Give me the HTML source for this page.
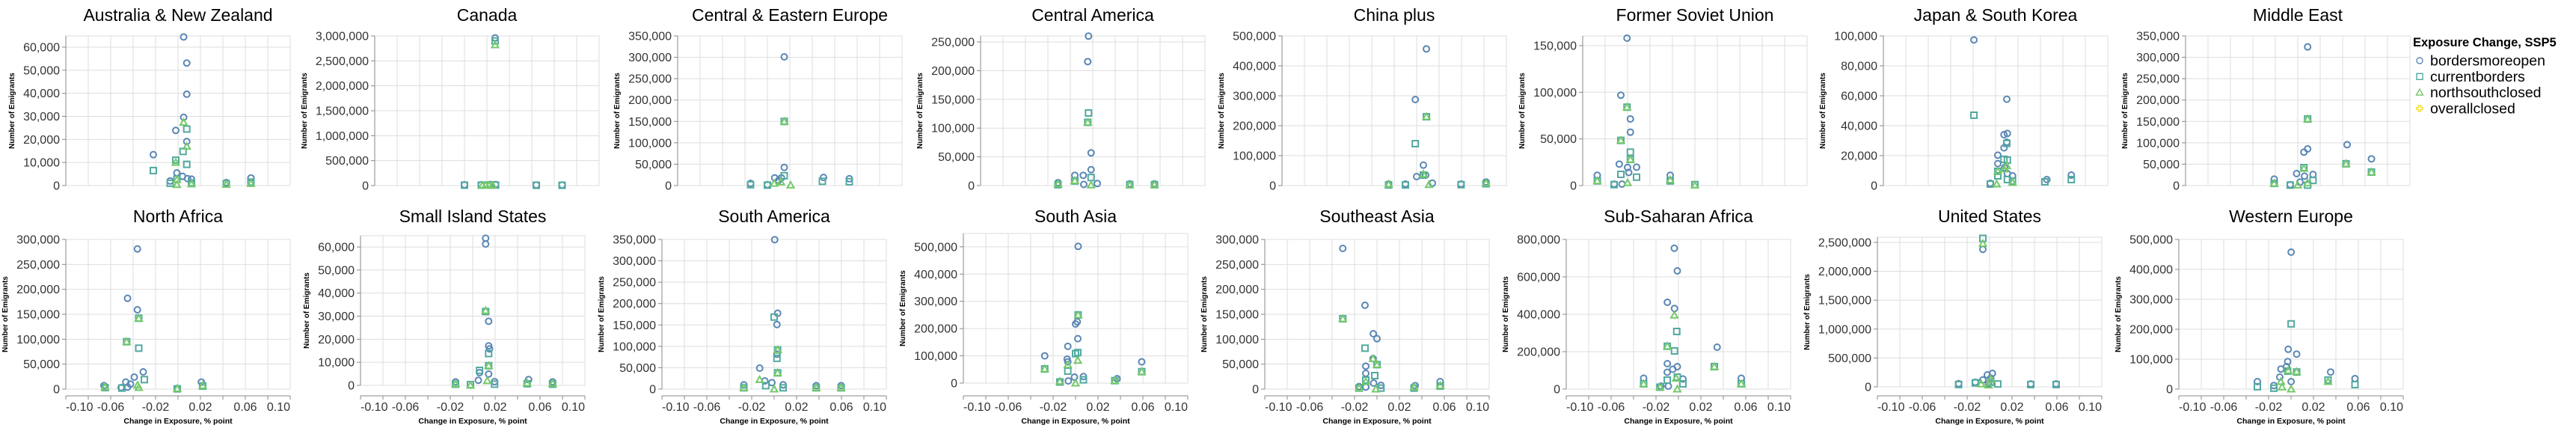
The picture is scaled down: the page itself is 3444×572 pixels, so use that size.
<!DOCTYPE html>
<html>
<head>
<meta charset="utf-8">
<style>
html,body{margin:0;padding:0;background:#fff;}
svg{display:block;font-family:"Liberation Sans",sans-serif;}
</style>
</head>
<body>
<svg id="chart" width="3444" height="572" viewBox="0 0 3444 572" xmlns="http://www.w3.org/2000/svg"></svg>
<script>
// ---- data ----
const regions = ["Australia & New Zealand","Canada","Central & Eastern Europe","Central America","China plus","Former Soviet Union","Japan & South Korea","Middle East",
"North Africa","Small Island States","South America","South Asia","Southeast Asia","Sub-Saharan Africa","United States","Western Europe"];
const yMax = [64865,3000000,350000,260400,500000,160400,100000,350000, 300000,64900,350000,549000,300000,800000,2590000,500000];
const yTickStep = [10000,500000,50000,50000,100000,50000,20000,50000, 50000,10000,50000,100000,50000,200000,500000,100000];
const xTickValues = [-0.10,-0.08,-0.06,-0.04,-0.02,0,0.02,0.04,0.06,0.08,0.10];
const xTickLabels = ["-0.10","","-0.06","","-0.02","","0.02","","0.06","","0.10"];
const seriesNames = ["bordersmoreopen","currentborders","northsouthclosed","overallclosed"];

const openPts = [
 [[0.005,64400],[0.0078,53100],[0.0078,39600],[0.005,29600],[-0.002,23900],[0.0078,19100],[-0.022,13400],[-0.001,5500],[0.004,4000],[-0.007,2000],[0.0085,3000],[0.012,2800],[0.043,1300],[0.065,3300]],
 [[0.0073,2960000],[-0.020,15000],[-0.005,15000],[0.003,20000],[0.0077,20000],[0.044,12000],[0.067,12000]],
 [[-0.005,301000],[-0.005,42500],[-0.035,5000],[-0.0135,18000],[-0.0075,18000],[0.030,19000],[0.053,16000],[-0.020,2000],[-0.010,12000]],
 [[-0.0038,260000],[-0.0045,215700],[-0.0015,56900],[-0.0015,27700],[-0.016,17800],[-0.0085,17800],[-0.031,5000],[0.004,3500],[0.033,3000],[0.055,3000],[-0.008,2000]],
 [[0.0287,456700],[0.0188,287500],[0.026,68300],[0.020,30000],[0.028,35000],[0.034,8000],[-0.005,5000],[0.010,5000],[0.0596,5000],[0.0818,12000]],
 [[-0.0605,158000],[-0.066,96800],[-0.0575,71400],[-0.0575,57200],[-0.0674,23000],[-0.060,19400],[-0.052,19700],[-0.087,11000],[-0.022,11000],[-0.059,14000],[-0.065,1500],[-0.072,1500]],
 [[-0.0193,97300],[0.010,57700],[0.0075,34000],[0.0105,34800],[0.0075,25200],[0.010,29000],[0.002,20300],[0.002,14700],[0.008,12000],[0.0105,8000],[0.0151,6500],[-0.0047,1500],[0.0457,4000],[0.0675,7000]],
 [[0.0088,324300],[0.044,95700],[0.0657,62400],[0.0088,85800],[0.0055,78200],[-0.001,28000],[0.0136,26000],[0.006,22000],[-0.021,15000],[0.002,8000],[-0.0067,2000]],
 [[-0.0362,281000],[-0.045,182000],[-0.0362,159000],[-0.031,34500],[-0.039,24000],[-0.0465,14000],[-0.066,7000],[-0.0507,3000],[-0.045,4000],[-0.0424,10000],[0.0208,14000],[-0.0007,1000]],
 [[0.0115,63800],[0.0115,61300],[0.0142,27800],[0.0142,17100],[0.015,15800],[0.0142,4900],[0.0061,5500],[0.005,2200],[0.0195,1600],[0.0498,2500],[0.0712,1500],[-0.0153,1500]],
 [[0.0005,349400],[0.0031,177300],[0.0025,151000],[0.0025,81600],[-0.0129,49000],[-0.0083,19000],[-0.027,10000],[0.008,10000],[0.0375,8000],[0.0597,8000],[-0.002,15000]],
 [[0.0023,501500],[0.0015,225000],[0.0,217000],[0.002,163000],[-0.0069,135000],[-0.0275,100000],[-0.0075,88000],[-0.0069,78000],[0.059,78000],[0.037,16000],[0.007,24000],[-0.001,22000],[-0.014,6000],[-0.0065,8000]],
 [[-0.0305,282000],[-0.0107,168000],[-0.0033,111000],[0.0,101000],[-0.0035,61000],[-0.010,46000],[-0.010,31500],[-0.016,5000],[-0.010,4000],[0.0035,7500],[0.034,7000],[0.0563,15000],[-0.003,12000]],
 [[-0.0037,753000],[-0.001,632000],[-0.0099,464000],[-0.0035,431000],[0.0345,224000],[-0.0099,136000],[-0.001,120000],[-0.005,106000],[-0.010,90000],[-0.031,58000],[0.056,58000],[0.004,54000],[-0.0156,16000],[-0.009,16000]],
 [[-0.006,2380000],[0.0025,233000],[-0.002,207000],[0.001,150000],[-0.006,120000],[-0.0127,80000],[-0.0276,55000],[0.0367,50000],[0.0593,50000],[-0.001,50000]],
 [[0.0001,457500],[-0.0025,133000],[0.005,117000],[-0.003,92000],[-0.004,75000],[-0.009,67000],[0.0353,57000],[0.057,35000],[-0.030,25000],[0.0001,25000],[-0.0153,12000],[-0.010,40000]]
];
const currentPts = [
 [[0.0078,24500],[0.0045,14800],[-0.002,11000],[0.0078,9200],[-0.022,6500],[-0.007,1000],[0.012,1200],[0.043,800],[0.065,1500],[-0.001,2800]],
 [[0.0073,2900000],[-0.020,8000],[-0.005,8000],[0.003,10000],[0.0077,10000],[0.044,6000],[0.067,6000]],
 [[-0.005,150000],[-0.005,23000],[0.029,10000],[0.053,9000],[-0.035,2000],[-0.020,1000]],
 [[-0.0038,126300],[-0.0045,110000],[-0.0015,14000],[-0.031,1500],[0.033,1500],[0.055,1500],[-0.016,8000]],
 [[0.0188,140000],[0.0287,230000],[0.026,35000],[-0.005,2000],[0.010,2000],[0.0596,3000],[0.0818,6000]],
 [[-0.0605,84000],[-0.066,48400],[-0.0575,35800],[-0.0575,28000],[-0.066,12000],[-0.052,9000],[-0.087,5000],[-0.022,5000],[-0.072,1000],[0.0,1000]],
 [[-0.0193,47000],[0.010,28200],[0.0075,17500],[0.0105,17000],[0.002,9500],[0.002,6500],[0.0105,4000],[-0.0047,1000],[0.044,2500],[0.0675,4000],[0.0151,3000]],
 [[0.0088,155700],[0.043,51000],[0.0657,31500],[0.0055,42000],[0.0136,12000],[-0.021,5000],[-0.0067,1000],[0.0088,1000]],
 [[-0.035,142000],[-0.0458,95000],[-0.035,82000],[-0.030,19000],[-0.065,3000],[0.022,6000],[-0.0007,500],[-0.050,2000]],
 [[0.0115,32000],[0.0142,13800],[0.0142,8500],[0.0061,6500],[0.0195,500],[-0.0153,500],[0.0485,700],[0.0712,500],[-0.002,300]],
 [[0.0,168500],[0.0031,91600],[0.0025,72000],[0.0031,38000],[-0.0075,8000],[-0.027,3000],[0.008,3000],[0.0375,3000],[0.0597,3000]],
 [[0.0023,250000],[0.002,112000],[0.0,108000],[-0.0069,44000],[0.059,42000],[-0.0275,52000],[0.007,12000],[0.035,9000],[-0.014,4000]],
 [[-0.0305,141000],[-0.0107,82000],[0.0,49000],[-0.002,27000],[-0.010,18000],[-0.016,2000],[0.0035,2000],[0.033,2000],[0.0563,6000]],
 [[-0.0015,308000],[-0.0035,204000],[-0.0099,229000],[0.032,120000],[-0.001,64000],[-0.010,48000],[0.004,28000],[-0.031,28000],[0.056,28000],[-0.0165,10000]],
 [[-0.006,2570000],[-0.0276,40000],[-0.0127,70000],[0.0073,50000],[0.0367,40000],[0.0593,40000],[0.001,80000]],
 [[0.0001,218000],[0.005,57000],[0.033,30000],[0.057,15000],[-0.030,8000],[-0.0153,3000],[-0.003,60000]]
];
const nsPts = [
 [[0.005,27400],[0.0078,17000],[-0.002,10000],[-0.001,400],[-0.001,2500],[0.012,700],[0.043,500],[0.065,900]],
 [[0.0073,2820000],[-0.004,5000],[-0.001,5000],[0.002,5000],[0.005,5000]],
 [[-0.005,150000],[-0.014,5000],[0.0007,1000],[-0.008,8000]],
 [[-0.0045,110000],[-0.016,8500],[-0.0015,1000],[-0.031,3000],[0.033,1000],[0.055,1500]],
 [[0.0287,230000],[0.026,38000],[-0.005,4000],[0.031,3000],[0.0818,8000]],
 [[-0.0605,84000],[-0.066,48400],[-0.0575,28000],[-0.087,5000],[-0.022,6000],[0.0,500],[-0.060,3000]],
 [[0.010,13200],[0.0075,11000],[0.002,9500],[0.001,1000],[0.0151,2000]],
 [[0.0088,155700],[0.043,51000],[0.0657,31500],[0.0055,40000],[0.0,1000],[-0.021,5000],[0.0088,6000]],
 [[-0.035,142000],[-0.0458,95000],[-0.036,8000],[-0.065,4000],[-0.0007,1000],[0.022,7000],[-0.035,3000]],
 [[0.0115,32400],[0.0142,8500],[-0.002,0],[0.0485,1000],[0.0712,800],[-0.0153,600],[0.013,2000]],
 [[0.0031,91600],[0.0031,38000],[-0.0129,22000],[0.0,0],[-0.027,3000],[0.0375,3000],[0.0597,3000]],
 [[0.0023,250000],[0.002,83000],[-0.0069,67000],[-0.0275,52000],[0.059,42000],[0.0,0],[-0.014,6000],[0.035,9000]],
 [[-0.0305,141000],[-0.0035,61000],[0.0,49000],[-0.010,15000],[-0.001,0],[0.033,4000],[0.0563,7000],[-0.016,2000]],
 [[-0.0037,395000],[-0.0099,229000],[0.032,120000],[-0.002,58000],[-0.001,0],[-0.031,28000],[0.056,28000],[-0.0165,10000]],
 [[-0.006,2480000],[-0.0075,50000],[-0.001,30000],[0.001,130000]],
 [[-0.0025,62000],[0.005,58000],[0.0001,0],[-0.009,25000],[-0.008,7000],[0.033,25000]]
];
const overallPts = [[],[],[],[],[],[],[],[],[],[],[],[],[],[],[],[]];

// ---- layout (positions, not data) ----
const plotLeft = [88,501,906,1311,1714,2116,2518,2922, 88,482,885,1288,1691,2094,2510,2913];
const plotTop  = [48,48,48,48,48,48,48,48, 320,315,320,312,320,320,317,320];
const plotW = 300, plotH = 200;
const colors = ["#5a87b5","#52aaa0","#74c96a","#eedc2a"];

const NS = "http://www.w3.org/2000/svg";
const svg = document.getElementById("chart");
function mk(tag, attrs, parent){
  const e = document.createElementNS(NS, tag);
  for (const k in attrs) e.setAttribute(k, attrs[k]);
  (parent||svg).appendChild(e);
  return e;
}
const ctx = document.createElement("canvas").getContext("2d");
ctx.font = "16px 'Liberation Sans'";
function fmt(v){ return Math.round(v).toLocaleString("en-US"); }

function marker(g, type, cx, cy, col){
  let e;
  if (type===0){
    e = mk("circle",{cx:cx,cy:cy,r:4,fill:"none",stroke:col,"stroke-width":2},g);
  } else if (type===1){
    e = mk("rect",{x:cx-4,y:cy-4,width:8,height:8,fill:"none",stroke:col,"stroke-width":2},g);
  } else if (type===2){
    e = mk("path",{d:`M${cx},${cy-4.5}L${cx+4.5},${cy+3.5}L${cx-4.5},${cy+3.5}Z`,fill:"none",stroke:col,"stroke-width":2},g);
  } else {
    e = mk("path",{d:`M${cx-1.5},${cy-4}h3v2.5h2.5v3h-2.5v2.5h-3v-2.5h-2.5v-3h2.5z`,fill:"none",stroke:col,"stroke-width":1.6},g);
  }
  return e;
}

regions.forEach((name, i) => {
  const L = plotLeft[i], T = plotTop[i], bottomRow = i >= 8;
  const xs = x => L + (x + 0.1) / 0.2 * plotW;
  const ys = v => T + plotH - v / yMax[i] * plotH;
  const g = mk("g",{});
  
  

  const t = mk("text",{x:L+plotW/2,y:bottomRow?297:28,"text-anchor":"middle","font-size":23,fill:"#000"},g);
  t.textContent = name;
  
  

  const grid = mk("g",{stroke:"#dddddd","stroke-width":1},g);
  
  
  xTickValues.forEach(v => { mk("line",{x1:xs(v),x2:xs(v),y1:T,y2:T+plotH},grid); });
  for (let v = 0; v <= yMax[i] + 1; v += yTickStep[i]) {
    mk("line",{x1:L,x2:L+plotW,y1:ys(v),y2:ys(v)},grid);
  }
  mk("rect",{x:L,y:T,width:plotW,height:plotH,fill:"none"},grid);

  const ya = mk("g",{},g);
  
  
  mk("line",{x1:L,x2:L,y1:T,y2:T+plotH,stroke:"#888","stroke-width":1},ya);
  let maxW = 0;
  for (let v = 0; v <= yMax[i] + 1; v += yTickStep[i]) {
    mk("line",{x1:L-5,x2:L,y1:ys(v),y2:ys(v),stroke:"#888"},ya);
    const lb = mk("text",{x:L-8,y:ys(v)+5.5,"text-anchor":"end","font-size":16,fill:"#333"},ya);
    lb.textContent = fmt(v);
    
    
    maxW = Math.max(maxW, ctx.measureText(fmt(v)).width);
  }
  const yt = mk("text",{transform:`translate(${L-maxW-20},${T+plotH/2}) rotate(-90)`,"text-anchor":"middle","font-size":10,"font-weight":"bold",fill:"#000"},ya);
  yt.textContent = "Number of Emigrants";
  
  

  if (bottomRow) {
    const xa = mk("g",{},g);
    
    
    mk("line",{x1:L,x2:L+plotW,y1:529,y2:529,stroke:"#888"},xa);
    xTickValues.forEach((v, k) => {
      mk("line",{x1:xs(v),x2:xs(v),y1:529,y2:534,stroke:"#888"},xa);
      if (xTickLabels[k]) {
        const anchor = k===0 ? "start" : (k===xTickValues.length-1 ? "end" : "middle");
        const lb = mk("text",{x:xs(v),y:549,"text-anchor":anchor,"font-size":16,fill:"#333"},xa);
        lb.textContent = xTickLabels[k];
        
        
      }
    });
    const xt = mk("text",{x:L+plotW/2,y:566,"text-anchor":"middle","font-size":10.5,"font-weight":"bold",fill:"#000"},xa);
    xt.textContent = "Change in Exposure, % point";
    
    
  }

  const sets = [overallPts[i], openPts[i], currentPts[i], nsPts[i]];
  const types = [3,0,1,2];
  sets.forEach((pts, s) => {
    const sg = mk("g",{},g);
    
    
    pts.forEach(p => {
      const m = marker(sg, types[s], xs(p[0]), ys(p[1]), colors[types[s]]);
      
      
    });
  });
});

const lg = mk("g",{});


const lt = mk("text",{x:3226,y:62,"font-size":16.5,"font-weight":"bold",fill:"#000"},lg);
lt.textContent = "Exposure Change, SSP5";


seriesNames.forEach((n, k) => {
  const y = 81 + k * 21.3;
  const eg = mk("g",{},lg);
  
  
  const sym = marker(eg, k, 3235, y, colors[k]);
  sym.setAttribute('stroke-width', 1.4);
  
  
  const tx = mk("text",{x:3249,y:y+6.5,"font-size":19.5,fill:"#000"},eg);
  tx.textContent = n;
  
  
});
</script>
</body>
</html>
